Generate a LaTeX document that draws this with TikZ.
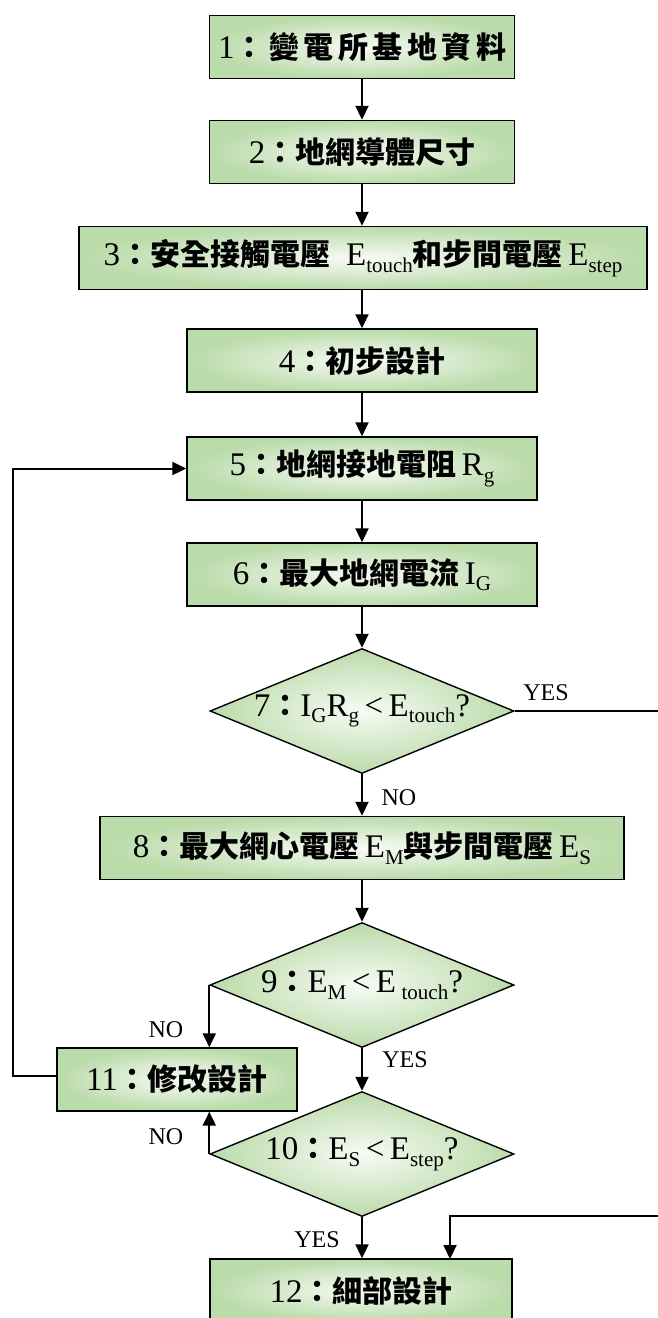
\documentclass[tikz,border=0pt]{standalone}
\usepackage{fontspec}
\setmainfont{Liberation Serif}
\newfontfamily\cjk{Noto Sans CJK TC}
\newfontfamily\cjkwide{Noto Sans CJK TC}[LetterSpace=15]
\usetikzlibrary{arrows.meta,shapes.geometric}
\definecolor{gedge}{RGB}{186,219,170}
\definecolor{gmid}{RGB}{247,251,244}
\newcommand\cj[1]{{\cjk\bfseries\fontsize{30}{34}\selectfont #1}}
\newcommand\cjw[1]{{\cjkwide\bfseries\fontsize{30}{34}\selectfont #1}}
\newcommand\lowsub[1]{\raisebox{-0.2em}{\fontsize{21}{21}\selectfont #1}}
\begin{document}
\begin{tikzpicture}[x=1pt,y=-1pt,
  box/.style={draw=black, line width=1.4pt, rectangle, inner sep=0pt,
    inner color=gmid, outer color=gedge, minimum height=63pt},
  dec/.style={draw=black, line width=1.4pt, diamond, inner sep=0pt,
    inner color=gmid, outer color=gedge, minimum width=304pt, minimum height=125pt},
  lbl/.style={font=\fontsize{33}{36}\selectfont, inner sep=0pt},
  tag/.style={font=\fontsize{24}{26}\selectfont, inner sep=0pt},
  flow/.style={line width=2pt, -{Triangle[length=14pt,width=13pt]}},
  wire/.style={line width=2pt}]
\clip (0,0) rectangle (658,1318);
\fill[white] (0,0) rectangle (658,1318);

\node[box, minimum width=305pt] (b1) at (362,47) {};
\node[lbl] at (b1) {1\cjw{：變電所基地資料}};
\node[box, minimum width=305pt] (b2) at (362,152) {};
\node[lbl] at (b2) {2\cj{：地網導體尺寸}};
\node[box, minimum width=568pt] (b3) at (363,258) {};
\node[lbl] at (b3) {3\cj{：安全接觸電壓}\hspace{16pt}E\lowsub{touch}\cj{和步間電壓}\,E\lowsub{step}};
\node[box, minimum width=350pt] (b4) at (362,360.5) {};
\node[lbl] at (b4) {4\cj{：初步設計}};
\node[box, minimum width=350pt] (b5) at (362,468.5) {};
\node[lbl] at (b5) {5\cj{：地網接地電阻}\,R\lowsub{g}};
\node[box, minimum width=350pt] (b6) at (362,574.5) {};
\node[lbl] at (b6) {6\cj{：最大地網電流}\,I\lowsub{G}};
\node[dec] (d7) at (362,711) {};
\node[lbl] at (d7) {7\cj{：}I\lowsub{G}R\lowsub{g}\,<\,E\lowsub{touch}?};
\node[box, minimum width=524pt] (b8) at (362,848) {};
\node[lbl] at (b8) {8\cj{：最大網心電壓}\,E\lowsub{M}\cj{與步間電壓}\,E\lowsub{S}};
\node[dec] (d9) at (362,985) {};
\node[lbl] at (d9) {9\cj{：}E\lowsub{M}\,<\,E\,\lowsub{touch}?};
\node[box, minimum width=240pt] (b11) at (177,1079.5) {};
\node[lbl] at (b11) {11\cj{：修改設計}};
\node[dec] (d10) at (362,1154) {};
\node[lbl] at (d10) {10\cj{：}E\lowsub{S}\,<\,E\lowsub{step}?};
\node[box, minimum width=302pt] (b12) at (361,1290.5) {};
\node[lbl] at (b12) {12\cj{：細部設計}};

\coordinate (yesout) at (658,711);
\coordinate (yesin) at (658,1216);
\coordinate (loopx) at (13,1076);
\coordinate (m12) at (450,1259);

\draw[flow] (b1.south) -- (b2.north);
\draw[flow] (b2.south) -- (b2.south |- b3.north);
\draw[flow] (b4.north |- b3.south) -- (b4.north);
\draw[flow] (b4.south) -- (b5.north);
\draw[flow] (b5.south) -- (b6.north);
\draw[flow] (b6.south) -- (d7.north);
\draw[flow] (d7.south) -- (b8.north);
\draw[wire] (d7.east) -- (yesout);
\draw[flow] (b8.south) -- (d9.north);
\draw[flow] (d9.west) -- (d9.west |- b11.north);
\draw[flow] (d9.south) -- (d10.north);
\draw[flow] (d10.west) -- (d10.west |- b11.south);
\draw[flow] (d10.south) -- (d10.south |- b12.north);
\draw[flow] (yesin) -| (m12);
\draw[flow] (b11.west |- loopx) -- (loopx) |- (b5.west);

\node[tag] (t7y) at (546,693) {YES};
\node[tag] (t7n) at (399,798) {NO};
\node[tag] (t9n) at (166,1030) {NO};
\node[tag] (t9y) at (405,1060) {YES};
\node[tag] (t10n) at (166,1137) {NO};
\node[tag] (t10y) at (317,1240) {YES};
\end{tikzpicture}
\end{document}
